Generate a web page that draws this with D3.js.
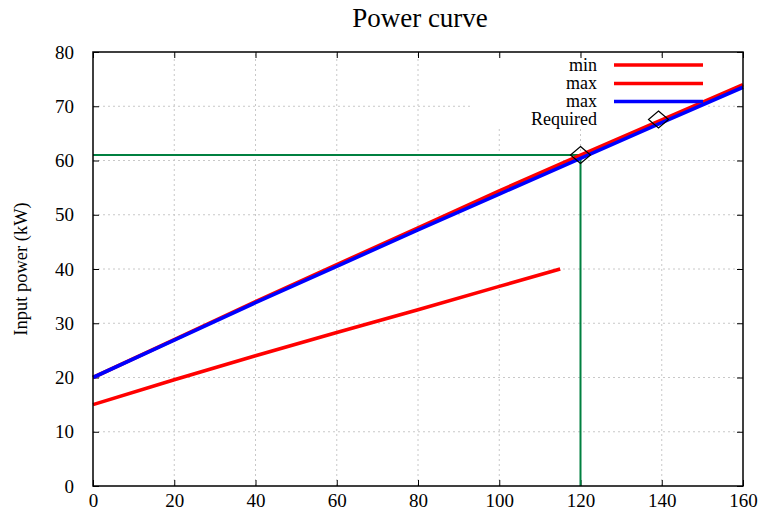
<!DOCTYPE html>
<html>
<head>
<meta charset="utf-8">
<script src="https://cdn.jsdelivr.net/npm/d3@7"></script>
<style>
  body { margin: 0; background: #fff; }
  svg { display: block; }
  svg text { font-family: "Liberation Serif", "Times New Roman", serif !important; fill: #000; }
</style>
</head>
<body>
<svg id="chart" width="777" height="510"></svg>
<script>
// ---- data ----
const title = "Power curve";
const yLabel = "Input power (kW)";
const xTicks = [0, 20, 40, 60, 80, 100, 120, 140, 160];
const yTicks = [0, 10, 20, 30, 40, 50, 60, 70, 80];

const minX = [0, 20, 40, 60, 80, 100, 115];
const minY = [15, 19.6, 24, 28.3, 32.5, 36.8, 40];

const maxRedX = [0, 20, 40, 60, 80, 100, 120, 140, 160];
const maxRedY = [20, 27, 34, 40.8, 47.6, 54.4, 61, 67.5, 74];

const maxBlueX = [0, 20, 40, 60, 80, 100, 120, 140, 160];
const maxBlueY = [20, 26.9, 33.8, 40.5, 47.2, 53.8, 60.4, 67, 73.5];

const requiredX = [120];
const requiredY = [61];

const legendLabels = ["min", "max", "max", "Required"];
const seriesColors = ["#ff0000", "#ff0000", "#0000ff"];

// ---- layout ----
const W = 777, H = 510;
const m = { left: 93, right: 34, top: 52, bottom: 24 };
const pw = W - m.left - m.right, ph = H - m.top - m.bottom;
const FONT = "Liberation Serif";

const svg = d3.select("#chart");
const x = d3.scaleLinear().domain([0, 160]).range([m.left, m.left + pw]);
const y = d3.scaleLinear().domain([0, 80]).range([m.top + ph, m.top]);

// grid
const grid = svg.append("g");
grid.selectAll(".gx").data(xTicks.slice(1, -1)).enter().append("line")
  .attr("x1", d => x(d)).attr("x2", d => x(d))
  .attr("y1", y(0)).attr("y2", y(80))
  .attr("stroke", "#c8c8c8").attr("stroke-width", 1).attr("stroke-dasharray", "2,3");
grid.selectAll(".gy").data(yTicks.slice(1, -1)).enter().append("line")
  .attr("x1", x(0)).attr("x2", x(160))
  .attr("y1", d => y(d)).attr("y2", d => y(d))
  .attr("stroke", "#c8c8c8").attr("stroke-width", 1).attr("stroke-dasharray", "2,3");

// legend background (covers grid)
svg.append("rect").attr("x", 473).attr("y", 57).attr("width", 234).attr("height", 70).attr("fill", "#fff");

// axes with inward ticks
const axB = d3.axisBottom(x).tickValues(xTicks).tickSizeInner(-6).tickSizeOuter(0).tickPadding(8);
const axL = d3.axisLeft(y).tickValues(yTicks).tickSizeInner(-6).tickSizeOuter(0).tickPadding(19);
const axT = d3.axisTop(x).tickValues(xTicks).tickSizeInner(-6).tickSizeOuter(0).tickFormat("");
const axR = d3.axisRight(y).tickValues(yTicks).tickSizeInner(-6).tickSizeOuter(0).tickFormat("");

function styleAxis(g) {
  g.attr("font-family", FONT).attr("font-size", 19);
  g.select(".domain").remove();
  g.selectAll(".tick line").attr("stroke", "#000").attr("stroke-width", 1);
  g.selectAll(".tick text").attr("fill", "#000")
    .style("font-family", FONT).style("font-size", "19px");
}
svg.append("g").attr("transform", `translate(0,${y(0)})`).call(axB).call(styleAxis);
svg.append("g").attr("transform", `translate(${x(0)},0)`).call(axL).call(styleAxis);
svg.append("g").attr("transform", `translate(0,${y(80)})`).call(axT).call(styleAxis);
svg.append("g").attr("transform", `translate(${x(160)},0)`).call(axR).call(styleAxis);

// required guide lines
const green = "#008040";
svg.append("line").attr("x1", x(0)).attr("x2", x(requiredX[0]))
  .attr("y1", y(requiredY[0])).attr("y2", y(requiredY[0]))
  .attr("stroke", green).attr("stroke-width", 2);
svg.append("line").attr("x1", x(requiredX[0])).attr("x2", x(requiredX[0]))
  .attr("y1", y(0)).attr("y2", y(requiredY[0]))
  .attr("stroke", green).attr("stroke-width", 2);

// series
const line = d3.line().x(d => x(d[0])).y(d => y(d[1]));
const series = [
  d3.zip(minX, minY),
  d3.zip(maxRedX, maxRedY),
  d3.zip(maxBlueX, maxBlueY)
];
series.forEach((s, i) => {
  svg.append("path").datum(s).attr("d", line)
    .attr("fill", "none").attr("stroke", seriesColors[i])
    .attr("stroke-width", 3.6).attr("stroke-linejoin", "round");
});

// diamond symbol
function diamond(cx, cy) {
  const a = 10, b = 8.5;
  return `M${cx},${cy - b}L${cx + a},${cy}L${cx},${cy + b}L${cx - a},${cy}Z`;
}
svg.selectAll(".req").data(d3.zip(requiredX, requiredY)).enter().append("path")
  .attr("d", d => diamond(x(d[0]), y(d[1])))
  .attr("fill", "none").attr("stroke", "#000").attr("stroke-width", 1.2);

// border
svg.append("rect").attr("x", m.left).attr("y", m.top).attr("width", pw).attr("height", ph)
  .attr("fill", "none").attr("stroke", "#000").attr("stroke-width", 1.5);

// legend
const legY = [65, 83.5, 101.5, 119.5];
const leg = svg.append("g");
legendLabels.forEach((lab, i) => {
  leg.append("text").attr("x", 597).attr("y", legY[i]).attr("dy", "0.33em")
    .attr("text-anchor", "end").style("font-size", "18px").text(lab);
  if (i < 3) {
    leg.append("line").attr("x1", 614).attr("x2", 703).attr("y1", legY[i]).attr("y2", legY[i])
      .attr("stroke", seriesColors[i]).attr("stroke-width", 3.6);
  } else {
    leg.append("path").attr("d", diamond(658.5, legY[i]))
      .attr("fill", "none").attr("stroke", "#000").attr("stroke-width", 1.2);
  }
});

// title and y label
svg.append("text").attr("x", 420).attr("y", 27).attr("text-anchor", "middle")
  .style("font-size", "27px").text(title);
svg.append("text").attr("transform", `translate(21,${m.top + ph / 2}) rotate(-90)`)
  .attr("text-anchor", "middle").attr("dy", "0.33em")
  .style("font-size", "18.5px").text(yLabel);
</script>
</body>
</html>
